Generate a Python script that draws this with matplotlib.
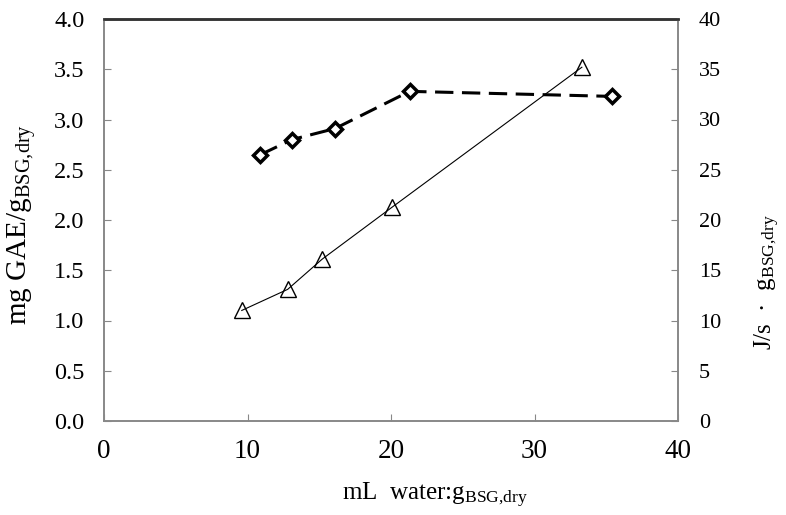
import numpy as np
import matplotlib.pyplot as plt

plt.rcParams['font.family'] = ['Liberation Serif', 'DejaVu Serif']
plt.rcParams['mathtext.fontset'] = 'custom'
plt.rcParams['mathtext.rm'] = 'Liberation Serif'
plt.rcParams['mathtext.it'] = 'Liberation Serif'

# phenolics (left axis)
x_gae = [10.9, 13.1, 16.1, 21.3, 35.4]
gae = [2.65, 2.80, 2.91, 3.28, 3.23]

# power (right axis)
x_pow = [9.6, 12.8, 15.2, 20.1, 33.3]
power = [11.0, 13.1, 16.1, 21.3, 35.2]

left_ticks = np.arange(0, 4.01, 0.5)
right_ticks = list(range(0, 41, 5))
x_ticks = [0, 10, 20, 30, 40]

fig = plt.figure(figsize=(7.86, 5.15), dpi=100)
ax = fig.add_axes([104/786, 1 - 421/515, (678-104)/786, (421-19)/515])
ax2 = ax.twinx()

ax.plot(x_gae, gae, 'k--', lw=2.2, dashes=(6, 2.8), marker='D', ms=7.5,
        mfc='white', mec='black', mew=2.5, zorder=3)
ax2.plot(x_pow, power, 'k-', lw=0.8, marker='^', ms=12,
         mfc='none', mec='black', mew=1.0)

ax.set_xlim(0, 40)
ax.set_ylim(0, 4.0)
ax2.set_ylim(0, 40)
ax.set_xticks(x_ticks)
ax.set_yticks(left_ticks)
ax.set_yticklabels(['%.1f' % v for v in left_ticks])
ax2.set_yticks(right_ticks)

for a in (ax, ax2):
    for s in a.spines.values():
        s.set_color('#888888')
        s.set_linewidth(1.2)
    a.spines['top'].set_color('#333333')
    a.spines['top'].set_linewidth(1.8)

ax.tick_params(axis='both', direction='in', length=5, color='#888888')
ax.tick_params(axis='y', pad=14, labelsize=17.5)
ax.tick_params(axis='x', pad=13, labelsize=19.5)
ax2.tick_params(axis='y', direction='in', length=5, color='#888888',
                labelsize=16, pad=15)

sub = r'$_{\mathrm{BSG{,}dry}}$'
ax.set_ylabel('mg GAE/g' + sub, fontsize=21)
ax.yaxis.set_label_coords(-0.115, 0.488)
ax2.set_ylabel('J/s  ·  g' + sub, fontsize=18)
ax2.yaxis.set_label_coords(1.13, 0.346)
ax.set_xlabel('mL  water:g' + sub, fontsize=18)
ax.xaxis.set_label_coords(0.577, -0.15)

fig.savefig('out.png', dpi=100)
